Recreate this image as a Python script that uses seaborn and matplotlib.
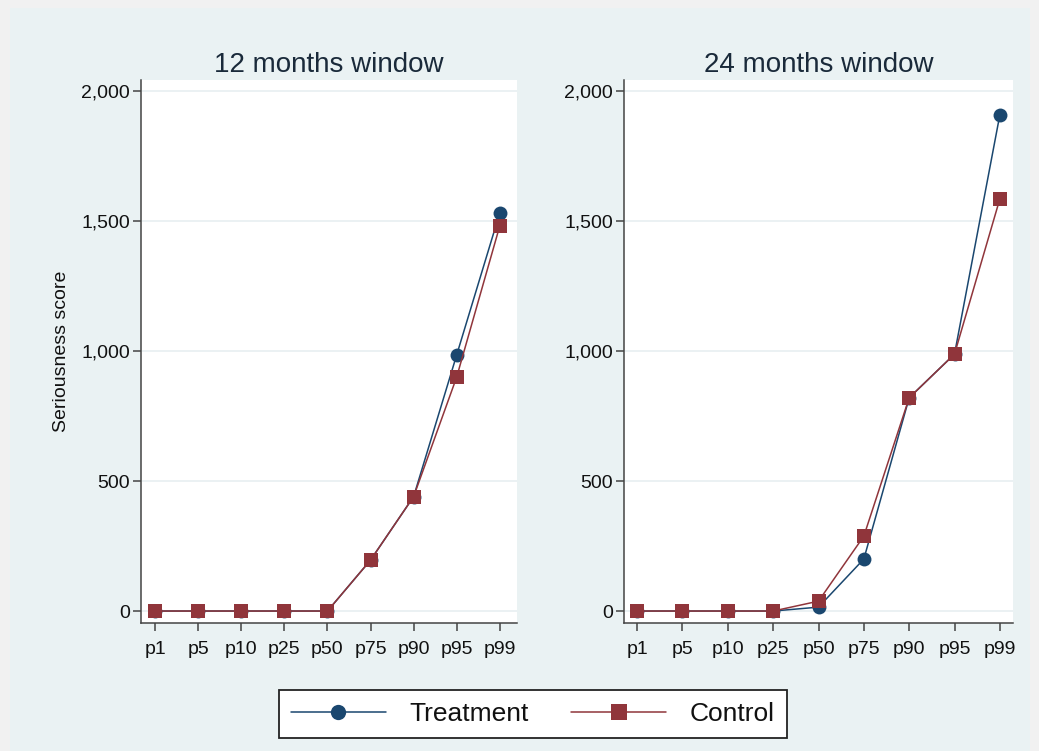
import matplotlib
matplotlib.use("Agg")
import matplotlib.pyplot as plt
from matplotlib.patches import Rectangle
import pandas as pd
import seaborn as sns

# Percentiles of the seriousness score distribution
percentiles = ["p1", "p5", "p10", "p25", "p50", "p75", "p90", "p95", "p99"]

treat_12 = [0, 0, 0, 0, 0, 196, 440, 985, 1531]
control_12 = [0, 0, 0, 0, 0, 196, 440, 900, 1481]

treat_24 = [0, 0, 0, 0, 15, 200, 820, 988, 1908]
control_24 = [0, 0, 0, 0, 38, 288, 820, 988, 1585]

panel_titles = ["12 months window", "24 months window"]
y_ticks = [0, 500, 1000, 1500, 2000]
y_label = "Seriousness score"

NAVY = "#1a476f"
MAROON = "#90353b"
BG = "#eaf2f3"

sns.set_theme(style="white")
plt.rcParams["font.family"] = ["Liberation Sans", "DejaVu Sans"]


def long_frame(treat, control):
    return pd.DataFrame({
        "pct": percentiles * 2,
        "score": list(treat) + list(control),
        "group": ["Treatment"] * len(treat) + ["Control"] * len(control),
    })


fig = plt.figure(figsize=(10.39, 7.51), dpi=100, facecolor="#f1f1f1")
W, H = 1039, 751
fig.patches.append(Rectangle((10 / W, 0), 1020 / W, 743 / H,
                             transform=fig.transFigure, facecolor=BG,
                             edgecolor="none", zorder=-10))

# axes boxes in pixels: left, top, right, bottom
boxes = [(141, 80, 517, 623), (624, 80, 1013, 623)]
xlims = [(-0.33, 8.4), (-0.29, 8.29)]
data = [(treat_12, control_12), (treat_24, control_24)]

axes = []
for (l, t, r, b), xl, (tr, ct), title in zip(boxes, xlims, data, panel_titles):
    ax = fig.add_axes([l / W, 1 - b / H, (r - l) / W, (b - t) / H])
    ax.set_zorder(1)
    ax.set_facecolor("white")
    df = long_frame(tr, ct)
    sns.lineplot(data=df, x="pct", y="score", hue="group", style="group",
                 hue_order=["Treatment", "Control"],
                 palette={"Treatment": NAVY, "Control": MAROON},
                 markers={"Treatment": "o", "Control": "s"},
                 dashes=False, markersize=10, linewidth=1.1,
                 markeredgewidth=0, sort=False, ax=ax, legend=True)
    ax.set_xlim(*xl)
    ax.set_ylim(-46, 2042)
    ax.set_yticks(y_ticks)
    ax.set_yticklabels([f"{v:,}" for v in y_ticks])
    ax.grid(axis="y", color="#e6edf0", linewidth=1.1)
    ax.grid(axis="x", visible=False)
    ax.set_axisbelow(True)
    for s in ["top", "right"]:
        ax.spines[s].set_visible(False)
    for s in ["left", "bottom"]:
        ax.spines[s].set_color("#444444")
        ax.spines[s].set_linewidth(1.1)
    ax.tick_params(axis="both", which="both", direction="out", length=6,
                   width=1.1, color="#444444", labelsize=14,
                   labelcolor="#111111", left=True, bottom=True)
    ax.tick_params(axis="x", pad=7)
    ax.tick_params(axis="y", pad=2)
    ax.set_xlabel("")
    ax.set_ylabel("")
    ax.set_title(title, fontsize=20, color="#1a2a3a", pad=6)
    handles, labels = ax.get_legend_handles_labels()
    ax.get_legend().remove()
    axes.append(ax)

axes[0].set_ylabel(y_label, fontsize=14, color="#111111", labelpad=8)

leg = fig.legend(handles, labels, loc="center",
                 bbox_to_anchor=(533 / W, 1 - 714 / H), ncol=2,
                 fontsize=19, frameon=True, fancybox=False, framealpha=1,
                 handlelength=3.6, handletextpad=0.9, columnspacing=1.6,
                 borderpad=0.45, edgecolor="#222222")
leg.get_frame().set_linewidth(1.3)
leg.get_frame().set_facecolor("white")
for txt in leg.get_texts():
    txt.set_color("#111111")
for h in leg.legend_handles:
    h.set_markersize(11)

fig.savefig("out.png", dpi=100, facecolor=fig.get_facecolor())
